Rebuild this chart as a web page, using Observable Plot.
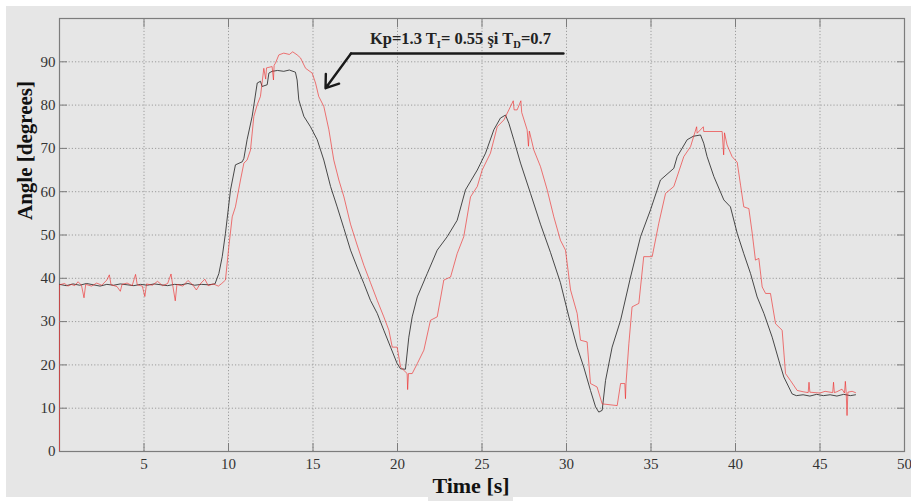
<!DOCTYPE html>
<html>
<head>
<meta charset="utf-8">
<script src="https://cdn.jsdelivr.net/npm/d3@7"></script>
<script src="https://cdn.jsdelivr.net/npm/@observablehq/plot@0.6"></script>
<style>
  html, body { margin: 0; padding: 0; background: #ffffff; width: 911px; height: 501px; overflow: hidden; }
  #bg { position: absolute; left: 6px; top: 6px; width: 905px; height: 491px; background: #e6e6e6; }
  #bg2 { position: absolute; left: 428px; top: 497px; width: 85px; height: 4px; background: #e6e6e6; }
  #chart { position: absolute; left: 0; top: 0; }
  #chart svg text { font-family: 'Liberation Serif', 'DejaVu Serif', serif; }
</style>
</head>
<body>
<div id="bg"></div>
<div id="bg2"></div>
<div id="chart"></div>
<script>
// ---- data ----
const xTicks = [5, 10, 15, 20, 25, 30, 35, 40, 45, 50];
const yTicks = [0, 10, 20, 30, 40, 50, 60, 70, 80, 90];

const blackTime = [0.0,0.4,0.8,1.2,1.6,2.0,2.4,2.8,3.2,3.6,4.0,4.4,4.8,5.2,5.6,6.0,6.4,6.8,7.2,7.6,8.0,8.4,8.8,9.2,
  9.43,9.63,9.82,10.12,10.41,10.81,10.91,11.1,11.4,11.7,11.89,11.99,12.29,12.39,12.58,12.9,13.27,13.6,13.96,14.06,14.16,
  14.46,14.85,15.25,15.64,16.04,16.43,16.83,17.22,17.61,18.01,18.4,18.8,19.19,19.59,19.98,20.18,20.47,20.67,20.87,21.17,
  21.76,22.35,22.94,23.53,24.02,24.72,25.21,25.7,26.09,26.39,26.59,26.88,27.28,27.87,28.46,29.05,29.64,30.14,30.63,31.02,
  31.42,31.72,31.91,32.11,32.31,32.7,33.2,33.79,34.38,34.97,35.56,36.35,36.55,37.14,37.5,37.93,38.12,38.32,38.72,39.31,
  39.7,40.1,40.49,40.89,41.28,41.68,42.17,42.56,42.86,43.15,43.35,43.6,44.0,44.4,44.8,45.2,45.6,46.0,46.4,46.8,47.1];
const blackAngle = [38.6,38.3,38.7,38.4,38.8,38.5,38.2,38.6,38.4,38.7,38.5,38.3,38.6,38.4,38.7,38.5,38.3,38.6,38.5,38.8,38.4,38.6,38.5,38.7,
  41.1,45.0,50.4,60.4,66.2,66.9,67.7,72.0,77.4,85.1,85.5,84.3,84.7,87.4,87.8,88.0,87.8,88.1,87.6,85.8,81.2,
  77.4,75.0,72.0,67.3,61.2,56.5,51.5,46.5,42.6,38.8,34.9,31.9,28.0,24.1,20.3,19.1,19.0,26.4,31.1,35.7,
  41.1,46.5,49.6,53.4,60.4,65.0,68.9,74.3,77.0,77.7,75.8,72.0,66.6,59.6,52.5,46.0,39.0,31.1,24.1,19.5,
  14.1,10.3,9.1,9.5,16.4,24.1,30.3,40.3,49.6,55.8,62.7,65.4,68.1,72.0,72.8,73.1,71.2,68.1,63.5,58.1,
  56.5,50.4,45.7,41.1,35.7,31.9,26.4,21.1,17.2,14.9,13.3,12.9,13.1,12.8,13.2,12.9,13.1,12.8,13.2,12.9,13.1];

const redTime = [0.0,0.0,0.3,0.5,0.7,0.9,1.1,1.3,1.45,1.55,1.9,2.2,2.5,2.8,2.95,3.05,3.4,3.6,3.7,4.0,4.3,4.5,4.6,4.9,5.05,5.15,
  5.5,5.8,6.1,6.4,6.6,6.7,6.85,6.95,7.3,7.6,7.9,8.1,8.3,8.6,8.8,9.1,9.4,9.6,9.82,10.02,10.22,10.41,10.71,10.91,11.1,11.3,
  11.5,11.7,11.89,12.09,12.2,12.25,12.58,12.66,12.7,12.78,12.98,13.27,13.6,13.8,14.06,14.26,14.56,14.95,15.15,15.34,15.64,
  15.94,16.23,16.53,16.83,17.22,17.61,18.01,18.4,18.8,19.19,19.49,19.69,19.98,20.18,20.57,20.6,20.65,20.87,21.17,21.56,
  21.95,22.35,22.74,23.14,23.53,23.92,24.32,24.72,25.01,25.5,25.9,26.3,26.59,26.85,26.9,27.08,27.3,27.35,27.67,27.75,
  27.8,28.07,28.46,28.86,29.25,29.64,29.94,30.24,30.63,30.83,31.22,31.42,31.81,32.11,33.0,33.2,33.45,33.49,33.52,33.69,
  33.88,34.28,34.57,35.07,35.46,35.86,36.35,36.94,37.34,37.7,37.73,38.1,38.12,39.21,39.3,39.35,39.5,39.8,40.1,40.3,
  40.49,40.79,40.99,41.18,41.38,41.58,41.78,42.07,42.37,42.76,42.96,43.25,43.65,44.0,44.3,44.35,44.4,45.0,45.3,45.75,
  45.8,45.85,46.0,46.3,46.45,46.5,46.55,46.6,46.65,46.9,47.1];
const redAngle = [0.0,38.5,38.8,38.2,38.6,38.3,39.2,38.4,35.5,38.6,38.2,38.9,38.4,39.6,40.8,38.5,38.1,37.0,38.6,38.9,38.3,40.9,38.5,38.2,35.8,38.7,
  38.4,39.3,38.3,38.8,41.0,38.4,34.8,38.6,38.2,39.5,38.4,37.3,38.6,39.8,38.3,38.7,38.2,38.8,39.6,47.3,54.2,56.5,62.7,66.6,67.3,69.6,
  77.4,80.1,82.0,88.5,86.0,88.6,88.9,85.8,89.2,89.7,91.6,92.0,91.7,92.3,91.6,90.9,88.5,87.4,85.1,82.0,79.7,
  74.3,67.3,62.7,58.8,52.5,47.7,43.0,39.0,34.9,31.1,28.0,24.1,24.1,19.5,18.0,14.3,18.0,18.0,20.3,23.4,
  30.3,31.1,39.6,40.3,45.7,49.6,58.8,61.2,65.0,68.9,75.0,76.6,78.9,81.0,78.9,78.9,81.0,78.3,74.3,70.5,
  74.0,69.6,65.8,60.4,54.2,48.8,46.5,37.3,31.9,25.7,25.3,15.7,14.9,11.0,10.6,15.7,15.7,12.2,15.7,24.9,
  33.4,34.2,45.0,45.0,52.7,59.6,61.2,68.1,70.4,75.0,73.5,75.0,73.9,73.9,68.5,73.6,70.8,68.1,66.8,61.5,
  56.5,56.1,50.4,44.2,44.6,38.0,36.5,36.5,29.5,28.0,18.0,16.4,14.1,13.8,13.6,16.0,13.7,13.5,13.9,13.6,
  16.0,13.6,13.8,14.4,13.5,16.2,13.6,8.3,13.7,13.9,13.6];

const annotationLeader = [{t: 29.82, angle: 91.9}, {t: 17.25, angle: 91.9}];
const annotationArrow = [{t1: 17.25, a1: 91.9, t2: 15.74, a2: 83.9}];
const annotationAnchor = {t: 18.4, angle: 94.0};

const black = blackTime.map((t, i) => ({t, angle: blackAngle[i]}));
const red = redTime.map((t, i) => ({t, angle: redAngle[i]}));

const serif = "'Liberation Serif', 'DejaVu Serif', serif";
const gridStyle = {stroke: "#9c9c9c", strokeOpacity: 1, strokeDasharray: "1.2,2", strokeWidth: 1};

const plot = Plot.plot({
  width: 911,
  height: 501,
  marginLeft: 59,
  marginRight: 7,
  marginTop: 18,
  marginBottom: 50,
  style: {background: "transparent", fontFamily: serif, fontSize: "15px", color: "#333"},
  x: {domain: [0, 50]},
  y: {domain: [0, 100]},
  marks: [
    Plot.gridX(xTicks.filter(d => d < 50), gridStyle),
    Plot.gridY(yTicks.filter(d => d > 0), gridStyle),
    Plot.frame({stroke: "#7c7c7c", strokeWidth: 1.2}),
    Plot.line(black, {x: "t", y: "angle", stroke: "#2b2b2b", strokeWidth: 0.85}),
    Plot.line(red, {x: "t", y: "angle", stroke: "#ee2a2a", strokeWidth: 0.85, strokeOpacity: 0.75}),
    Plot.axisX(xTicks, {anchor: "bottom", tickSize: -8, tickPadding: 15, label: null, color: "#7c7c7c", fill: "#333", fontSize: 15, fontFamily: serif}),
    Plot.axisX(xTicks, {anchor: "top", tickSize: -8, tickFormat: () => "", label: null, color: "#7c7c7c"}),
    Plot.axisY(yTicks, {anchor: "left", tickSize: -8, tickPadding: 12, label: null, color: "#7c7c7c", fill: "#333", fontSize: 15, fontFamily: serif}),
    Plot.axisY(yTicks, {anchor: "right", tickSize: -8, tickFormat: () => "", label: null, color: "#7c7c7c"}),
    Plot.text(["Time [s]"], {frameAnchor: "bottom", dx: -11, dy: 41.5, text: d => d, fontWeight: "bold", fontSize: 22, fill: "#111", fontFamily: serif}),
    Plot.text(["Angle [degrees]"], {frameAnchor: "left", rotate: -90, dx: -34, dy: -15, text: d => d, fontWeight: "bold", fontSize: 21, fill: "#111", fontFamily: serif}),
    Plot.line(annotationLeader, {x: "t", y: "angle", stroke: "#1a1a1a", strokeWidth: 2.4}),
    Plot.arrow(annotationArrow, {x1: "t1", y1: "a1", x2: "t2", y2: "a2", stroke: "#1a1a1a", strokeWidth: 2.4, headLength: 14, headAngle: 70})
  ]
});

// annotation text with subscripts
const xs = plot.scale("x"), ys = plot.scale("y");
const svg = d3.select(plot);
const txt = svg.append("text")
  .attr("x", xs.apply(annotationAnchor.t))
  .attr("y", ys.apply(annotationAnchor.angle))
  .attr("text-anchor", "start")
  .attr("font-family", serif)
  .attr("font-weight", "bold")
  .attr("font-size", 16.5)
  .attr("fill", "#222");
txt.append("tspan").text("Kp=1.3 T");
txt.append("tspan").attr("font-size", 10.5).attr("dy", 4).text("I");
txt.append("tspan").attr("dy", -4).text("= 0.55 şi T");
txt.append("tspan").attr("font-size", 10.5).attr("dy", 4).text("D");
txt.append("tspan").attr("dy", -4).text("=0.7");

document.getElementById("chart").appendChild(plot);
</script>
</body>
</html>
